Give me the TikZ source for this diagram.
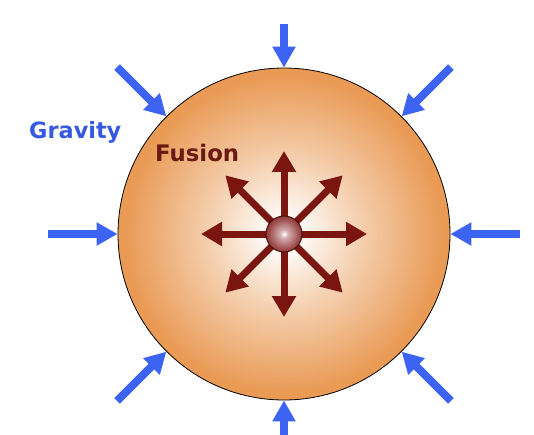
\documentclass[tikz,border=0pt]{standalone}
\usepackage{fontspec}
\newfontfamily\labelfont{DejaVu Sans}
\usetikzlibrary{arrows.meta}
\definecolor{starorange}{HTML}{E99A55}
\definecolor{fusionred}{HTML}{7A1510}
\definecolor{gravblue}{HTML}{3D63F2}
\definecolor{fusiontext}{HTML}{6B1A12}
\definecolor{gravtext}{HTML}{3559E0}
\definecolor{corered}{HTML}{9A4646}
\definecolor{coreedge}{HTML}{4A0E0A}
\pgfdeclareradialshading{starglow}{\pgfpoint{0bp}{0bp}}{%
  color(0bp)=(white);
  color(3bp)=(white!93!starorange);
  color(12bp)=(white!50!starorange);
  color(24bp)=(starorange);
  color(50bp)=(starorange)}
\pgfdeclareradialshading{coreball}{\pgfpoint{0bp}{0bp}}{%
  color(0bp)=(white);
  color(6bp)=(white!55!corered);
  color(22bp)=(corered);
  color(35bp)=(corered!75!black);
  color(50bp)=(corered!75!black)}
\tikzset{
  starbody/.style={circle, draw=black, line width=0.8pt, minimum size=332pt,
    inner sep=0pt, shading=starglow},
  corebody/.style={circle, draw=coreedge, line width=1pt, minimum size=36pt,
    inner sep=0pt, shading=coreball},
  fusearrow/.style={draw=fusionred, line width=7pt,
    -{Triangle[width=23pt,length=21pt]}, fill=fusionred},
  gravarrow/.style={draw=gravblue, line width=8pt,
    -{Triangle[width=22pt,length=21pt]}, fill=gravblue},
  gravlabel/.style={text=gravtext, font=\labelfont\bfseries\fontsize{22.4}{26}\selectfont,
    inner sep=0pt},
  fuselabel/.style={text=fusiontext, font=\labelfont\bfseries\fontsize{22.8}{26}\selectfont,
    inner sep=0pt}
}
\begin{document}
\begin{tikzpicture}[x=1pt,y=1pt]
\useasboundingbox (0,0) rectangle (534,434);
\node[starbody] (star) at (284,200) {};
\coordinate (c) at (284,200);
% fusion arrows
\foreach \a in {0,45,...,315}{
  \path (c) ++(\a:83) coordinate (f\a);
  \draw[fusearrow] (c) -- (f\a);
}
\node[corebody] (core) at (c) {};
% gravity arrows
\foreach \a in {0,45,135,180,225,270,315}{
  \path (c) ++(\a:236) coordinate (g\a);
  \draw[gravarrow] (g\a) -- (star.\a);
}
\path (c) ++(90:210) coordinate (g90);
\draw[gravarrow] (g90) -- (star.90);
\node[gravlabel, anchor=base west] (gravity) at (29,295.5) {Gravity};
\node[fuselabel, anchor=base west] (fusion) at (155,272.5) {Fusion};
\end{tikzpicture}
\end{document}
